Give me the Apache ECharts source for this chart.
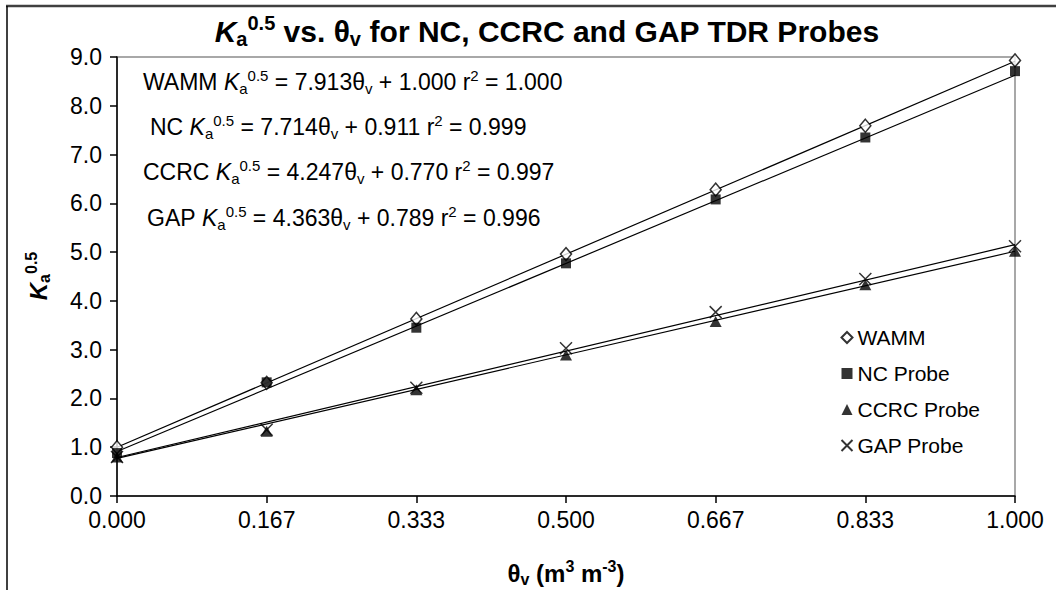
<!DOCTYPE html>
<html>
<head>
<meta charset="utf-8">
<style>
  html, body { margin: 0; padding: 0; background: #fff; }
  #chart { width: 1056px; height: 590px; }
</style>
<script src="https://cdn.jsdelivr.net/npm/echarts@6/dist/echarts.min.js"></script>
</head>
<body>
<div id="chart"></div>
<script>
// Volumetric water content (m3 m-3)
const thetaV = [0, 1 / 6, 2 / 6, 3 / 6, 4 / 6, 5 / 6, 1];

// Square root of apparent dielectric permittivity, per probe
const wamm = [1.00, 2.32, 3.63, 4.96, 6.28, 7.59, 8.93];
const ncProbe = [0.88, 2.33, 3.45, 4.77, 6.08, 7.35, 8.71];
const ccrcProbe = [0.80, 1.33, 2.18, 2.89, 3.58, 4.33, 5.02];
const gapProbe = [0.80, 1.36, 2.22, 3.03, 3.77, 4.45, 5.12];

// Linear fits: Ka^0.5 = slope * thetaV + intercept
const fitNames = ['WAMM', 'NC', 'CCRC', 'GAP'];
const fitSlopes = [7.913, 7.714, 4.247, 4.363];
const fitIntercepts = [1.000, 0.911, 0.770, 0.789];
const fitR2 = ['1.000', '0.999', '0.997', '0.996'];

const xTicks = ['0.000', '0.167', '0.333', '0.500', '0.667', '0.833', '1.000'];
const yTicks = ['0.0', '1.0', '2.0', '3.0', '4.0', '5.0', '6.0', '7.0', '8.0', '9.0'];

const FONT = 'Liberation Sans, Arial, sans-serif';
const BASE = 23;
const SMALL = 15;

const chart = echarts.init(document.getElementById('chart'), null, { renderer: 'svg' });

const pts = (ys) => thetaV.map((x, i) => [x, ys[i]]);
const fitLine = (k) => [0, 1].map(x => [x, fitSlopes[k] * x + fitIntercepts[k]]);

function richSet(size, small, shift, bold) {
  const w = bold ? 'bold' : 'normal';
  return {
    t: { fontSize: size, fontFamily: FONT, fontWeight: w, color: '#000' },
    k: { fontSize: size, fontFamily: FONT, fontWeight: w, fontStyle: 'italic', color: '#000' },
    sub: { fontSize: small, fontFamily: FONT, fontWeight: w, color: '#000', padding: [shift, 0, 0, 0] },
    sup: { fontSize: small, fontFamily: FONT, fontWeight: w, color: '#000', padding: [0, 0, shift, 0] }
  };
}

const eqRich = richSet(BASE, SMALL, 13, false);
const boldRich = richSet(24, 16, 13, true);
const titleRich = richSet(30, 20, 16, true);

const eqLeft = [143, 150, 143, 147];
const eqTop = [82, 127, 172, 218];

const equations = fitNames.map((name, k) => ({
  type: 'text',
  x: eqLeft[k],
  y: eqTop[k],
  style: {
    text: '{t|' + name + ' }{k|K}{sub|a}{sup|0.5}{t| = ' + fitSlopes[k].toFixed(3) +
      'θ}{sub|v}{t| + ' + fitIntercepts[k].toFixed(3) + ' r}{sup|2}{t| = ' + fitR2[k] + '}',
    rich: eqRich,
    verticalAlign: 'middle',
    align: 'left'
  }
}));

const option = {
  animation: false,
  backgroundColor: '#fff',
  grid: {
    left: 117, right: 41, top: 57, bottom: 94,
    show: true, borderColor: '#8c8c8c', borderWidth: 1.5, backgroundColor: 'transparent'
  },
  legend: {
    orient: 'vertical',
    left: 834,
    top: 322,
    itemWidth: 11,
    itemHeight: 11,
    itemGap: 15,
    textStyle: { fontSize: 21, fontFamily: FONT, color: '#000' },
    data: ['WAMM', 'NC Probe', 'CCRC Probe', 'GAP Probe']
  },
  xAxis: {
    type: 'value', min: 0, max: 1, interval: 1 / 6,
    axisLine: { lineStyle: { color: '#000', width: 1.5 } },
    axisTick: { inside: false, length: 7, lineStyle: { color: '#000', width: 1.5 } },
    splitLine: { show: false },
    axisLabel: {
      fontSize: BASE, fontFamily: FONT, color: '#000', margin: 12,
      formatter: (v) => xTicks[Math.round(v * 6)]
    }
  },
  yAxis: {
    type: 'value', min: 0, max: 9, interval: 1,
    axisLine: { show: true, lineStyle: { color: '#000', width: 1.5 } },
    axisTick: { show: true, inside: false, length: 7, lineStyle: { color: '#000', width: 1.5 } },
    splitLine: { show: false },
    axisLabel: {
      fontSize: BASE, fontFamily: FONT, color: '#000', margin: 15,
      formatter: (v) => yTicks[Math.round(v)]
    }
  },
  graphic: [
    // outer frame (top and left edges)
    { type: 'line', shape: { x1: 6, y1: 6, x2: 1056, y2: 6 }, style: { stroke: '#404040', lineWidth: 2.5 } },
    { type: 'line', shape: { x1: 7, y1: 6, x2: 7, y2: 590 }, style: { stroke: '#000', lineWidth: 1.5 } },
    // chart title
    {
      type: 'text', x: 547, y: 31,
      style: {
        text: '{k|K}{sub|a}{sup|0.5}{t| vs. θ}{sub|v}{t| for NC, CCRC and GAP TDR Probes}',
        rich: titleRich, align: 'center', verticalAlign: 'middle'
      }
    },
    ...equations,
    {
      type: 'text', x: 38, y: 276, rotation: Math.PI / 2,
      style: { text: '{k|K}{sub|a}{sup|0.5}', rich: boldRich, align: 'center', verticalAlign: 'middle' }
    },
    {
      type: 'text', x: 566, y: 573,
      style: { text: '{t|θ}{sub|v}{t| (m}{sup|3}{t| m}{sup|-3}{t|)}', rich: boldRich, align: 'center', verticalAlign: 'middle' }
    }
  ],
  series: [
    ...[0, 1, 2, 3].map(k => ({
      type: 'line', data: fitLine(k), showSymbol: false, symbol: 'none', silent: true,
      lineStyle: { color: '#000', width: 1.2 }, z: 2
    })),
    {
      name: 'WAMM', type: 'scatter', data: pts(wamm), symbol: 'diamond', symbolSize: [11, 13],
      itemStyle: { color: '#fff', borderColor: '#000', borderWidth: 1.5 }, z: 3
    },
    {
      name: 'NC Probe', type: 'scatter', data: pts(ncProbe), symbol: 'rect', symbolSize: 10,
      itemStyle: { color: '#000' }, z: 4
    },
    {
      name: 'CCRC Probe', type: 'scatter', data: pts(ccrcProbe), symbol: 'triangle', symbolSize: [12, 11],
      itemStyle: { color: '#000' }, z: 5
    },
    {
      name: 'GAP Probe', type: 'scatter', data: pts(gapProbe), symbol: 'path://M0,0L10,10M10,0L0,10', symbolSize: 12,
      itemStyle: { color: 'none', borderColor: '#000', borderWidth: 1.5 }, z: 6
    }
  ]
};

chart.setOption(option);
</script>
</body>
</html>
